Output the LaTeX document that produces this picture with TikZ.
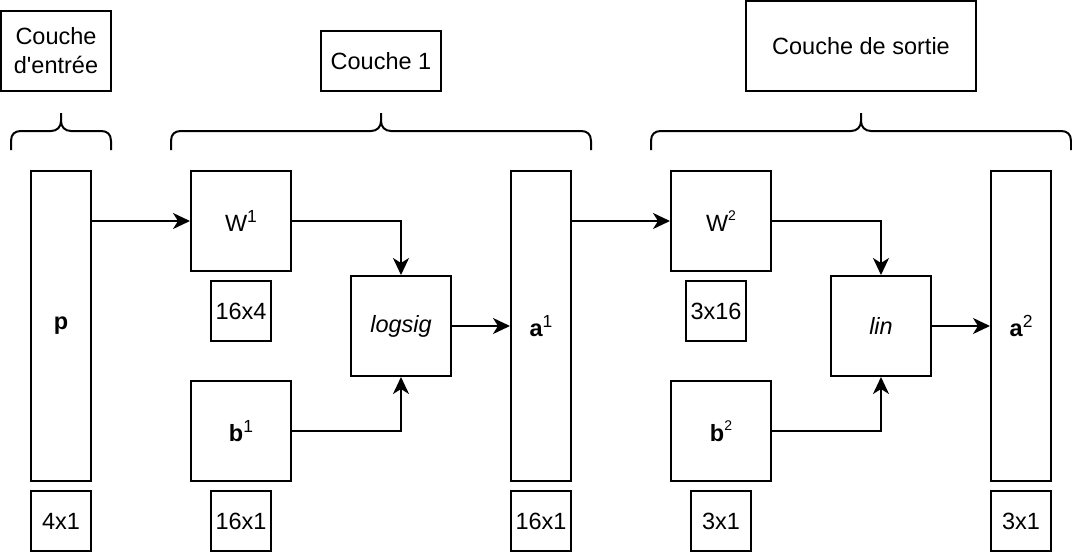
\documentclass[tikz,border=0pt]{standalone}
\usepackage{fontspec}
\setmainfont{Liberation Sans}
\usepackage{tikz}
\usetikzlibrary{arrows.meta}
\usetikzlibrary{calc}

\newcommand{\supbig}[1]{\raisebox{0.4em}{\fontsize{17.5}{17.5}\selectfont #1}}
\newcommand{\supsmall}[1]{\raisebox{0.45em}{\fontsize{14}{14}\selectfont #1}}

\begin{document}
\begin{tikzpicture}[x=1pt,y=-1pt,
			every node/.style={font=\fontsize{23.5}{29}\selectfont},
			box/.style={draw,line width=2pt,inner sep=0pt},
			sqbox/.style={box,minimum width=100,minimum height=100},
			colbox/.style={box,minimum width=60,minimum height=310},
			dimbox/.style={box,minimum width=60,minimum height=60},
			link/.style={line width=2pt,-{Stealth[length=17pt,width=16pt,inset=5pt]}}]
			\useasboundingbox (0,0) rectangle (1072,552);
			
			% layer labels
			\node[box,minimum width=110,minimum height=80,align=center] (in-lbl) at (56,51) {Couche\\d\textquotesingle entrée};
			\node[box,minimum width=120,minimum height=60] (l1-lbl) at (381,61) {Couche 1};
			\node[box,minimum width=230,minimum height=90] (out-lbl) at (861,46) {Couche de sortie};
			
			% braces
			\foreach \xa/\xb in {11/111,171/591,651/1071}{
				\pgfmathsetmacro\xm{(\xa+\xb)/2}
				\draw[line width=2pt,line join=round] (\xa,150) -- (\xa,141) .. controls (\xa,134) and (\xa+4,131) .. (\xa+10,131) -- (\xm-10,131) .. controls (\xm-4,131) and (\xm,127) .. (\xm,121) -- (\xm,113);
				\draw[line width=2pt,line join=round] (\xb,150) -- (\xb,141) .. controls (\xb,134) and (\xb-4,131) .. (\xb-10,131) -- (\xm+10,131) .. controls (\xm+4,131) and (\xm,127) .. (\xm,121);
			}
			
			% input
			\node[colbox] (p) at (61,326) {\textbf{p}};
			\node[dimbox] (p-dim) at (61,521) {4x1};
			
			% layer 1
			\node[sqbox] (W1) at (241,221) {W\supbig{1}};
			\node[dimbox] (W1-dim) at (241,311) {16x4};
			\node[sqbox] (b1) at (241,431) {\textbf{b}\supbig{1}};
			\node[dimbox] (b1-dim) at (241,521) {16x1};
			\node[sqbox] (f1) at (401,326) {\textit{logsig}};
			\node[colbox] (a1) at (541,326) {\textbf{a}\supbig{1}};
			\node[dimbox] (a1-dim) at (541,521) {16x1};
			
			% output layer
			\node[sqbox] (W2) at (721,221) {W\supsmall{2}};
			\node[dimbox] (W2-dim) at (716,311) {3x16};
			\node[sqbox] (b2) at (721,431) {\textbf{b}\supsmall{2}};
			\node[dimbox] (b2-dim) at (721,521) {3x1};
			\node[sqbox] (f2) at (881,326) {\textit{lin}};
			\node[colbox] (a2) at (1021,326) {\textbf{a}\supbig{2}};
			\node[dimbox] (a2-dim) at (1021,521) {3x1};
			
			\draw[link] (p.east |- W1.west) -- (W1.west);
			\draw[link] (W1.east) -| (f1.north);
			\draw[link] (b1.east) -| (f1.south);
			\draw[link] (f1.east) -- (a1.west);
			\draw[link] (a1.east |- W2.west) -- (W2.west);
			\draw[link] (W2.east) -| (f2.north);
			\draw[link] (b2.east) -| (f2.south);
			\draw[link] (f2.east) -- (a2.west);
		\end{tikzpicture}
\end{document}
